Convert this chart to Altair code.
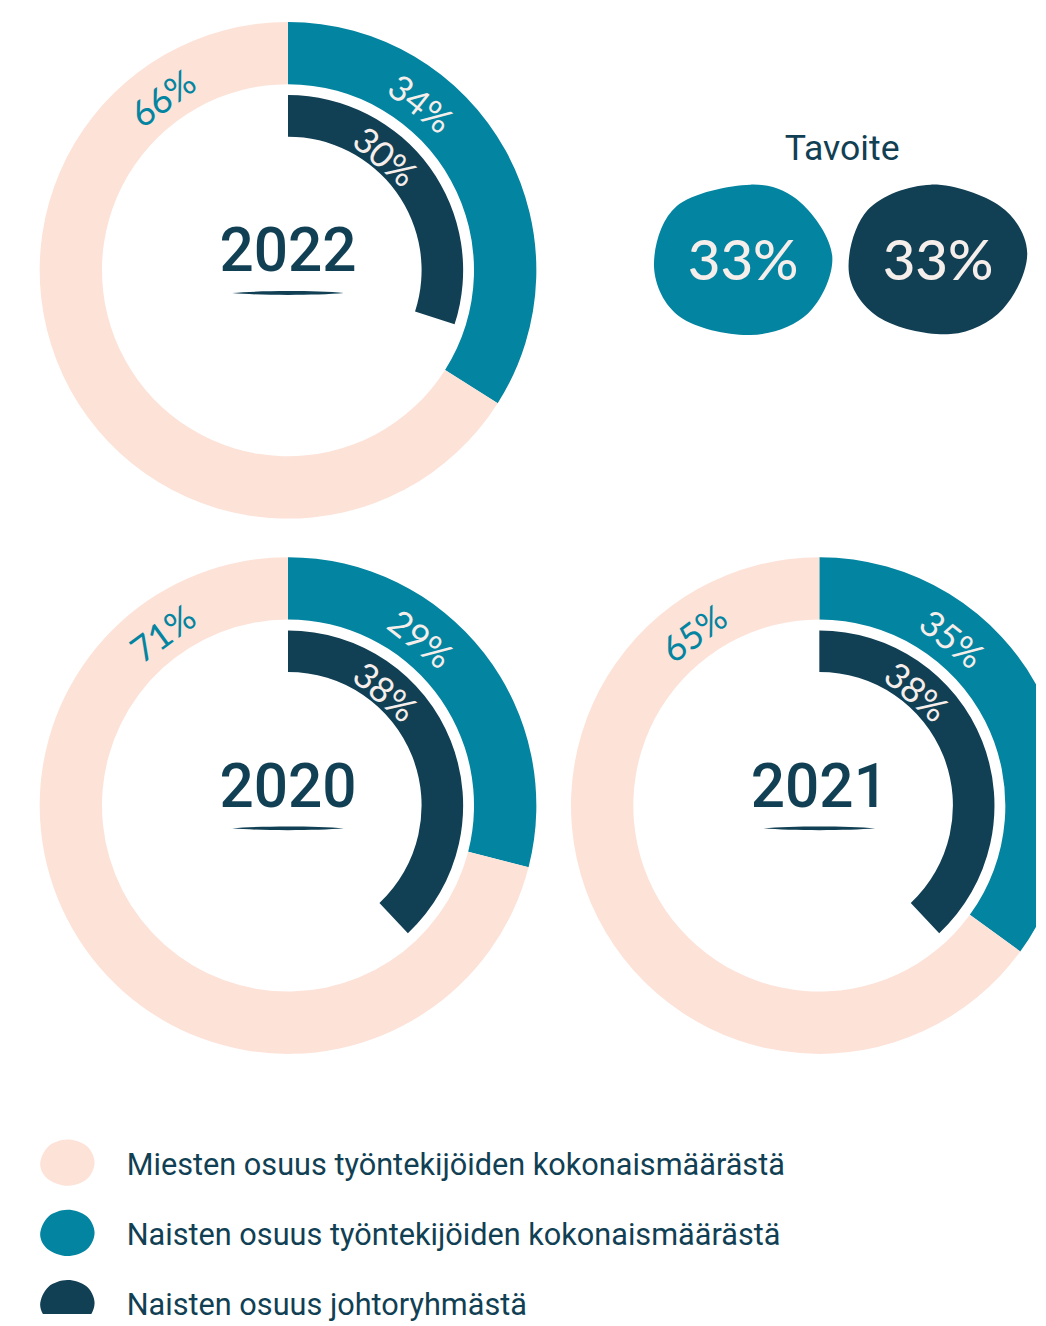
import math
import altair as alt
import pandas as pd

# ---------------- data ----------------
years = ["2022", "2020", "2021"]
men_share = [66, 71, 65]
women_share = [34, 29, 35]
women_mgmt_share = [30, 38, 38]

target_title = "Tavoite"
target_values = [33, 33]

legend_labels = [
    "Miesten osuus työntekijöiden kokonaismäärästä",
    "Naisten osuus työntekijöiden kokonaismäärästä",
    "Naisten osuus johtoryhmästä",
]

# ---------------- style ----------------
PEACH = "#fde2d8"
TEAL = "#0384a0"
DARK = "#113f54"
LIGHT = "#f6eeea"
colors = [PEACH, TEAL, DARK]


def rad(deg):
    return (deg % 360) * math.pi / 180


def blob_path(pts):
    n = len(pts)
    d = f"M{pts[0][0]:.3f},{pts[0][1]:.3f}"
    for i in range(n):
        p0, p1, p2, p3 = pts[i - 1], pts[i], pts[(i + 1) % n], pts[(i + 2) % n]
        c1 = (p1[0] + (p2[0] - p0[0]) / 6, p1[1] + (p2[1] - p0[1]) / 6)
        c2 = (p2[0] - (p3[0] - p1[0]) / 6, p2[1] - (p3[1] - p1[1]) / 6)
        d += f" C{c1[0]:.3f},{c1[1]:.3f} {c2[0]:.3f},{c2[1]:.3f} {p2[0]:.3f},{p2[1]:.3f}"
    return d + " Z"


TEAL_BLOB = blob_path([(0.08, -0.83), (0.64, -0.63), (0.99, -0.03), (0.72, 0.60),
                       (0.08, 0.84), (-0.70, 0.64), (-0.99, 0.08), (-0.74, -0.59)])
DARK_BLOB = blob_path([(-0.08, -0.83), (0.69, -0.59), (0.99, -0.07), (0.72, 0.55),
                       (0.14, 0.83), (-0.63, 0.66), (-0.99, 0.15), (-0.78, -0.55)])
LEGEND_BLOB = blob_path([(0.0, -0.85), (0.7, -0.62), (1.0, -0.02), (0.72, 0.6),
                         (0.0, 0.85), (-0.72, 0.6), (-1.0, 0.05), (-0.7, -0.6)])
LENS = "M-1,0 C-0.5,-0.045 0.5,-0.045 1,0 C0.5,0.045 -0.5,0.045 -1,0 Z"

LABEL_FONT = "Lato"
TEXT_FONT = "Roboto"

color_enc = alt.Color("group:N", scale=alt.Scale(domain=legend_labels, range=colors), legend=None)


def donut(i, w, h, xoff=0):
    ring = pd.DataFrame({
        "group": [legend_labels[1], legend_labels[0]],
        "value": [women_share[i], men_share[i]],
        "ord": [0, 1],
    })
    mgmt = pd.DataFrame({"group": [legend_labels[2]], "value": [women_mgmt_share[i]], "ord": [0]})
    yr = pd.DataFrame({"year": [years[i]]})

    theta = alt.Theta("value:Q", scale=alt.Scale(domain=[0, 100]), stack=True)

    outer = alt.Chart(ring).mark_arc(innerRadius=188, outerRadius=251, xOffset=xoff, clip=True).encode(
        theta=theta, color=color_enc, order=alt.Order("ord:Q"))
    inner = alt.Chart(mgmt).mark_arc(innerRadius=135, outerRadius=177, xOffset=xoff, clip=True).encode(
        theta=theta, color=color_enc, order=alt.Order("ord:Q"))

    lab = dict(font=LABEL_FONT, fontSize=36, fontWeight=400, align="center", baseline="middle",
               xOffset=xoff)
    men_lab = alt.Chart(ring).transform_filter(alt.datum.ord == 1).transform_calculate(
        lbl="datum.value + '%'").mark_text(
        theta=rad(-36), radius=213, angle=324, color=TEAL, **lab).encode(text="lbl:N")
    women_lab = alt.Chart(ring).transform_filter(alt.datum.ord == 0).transform_calculate(
        lbl="datum.value + '%'").mark_text(
        theta=rad(38.5), radius=213, angle=38.5, color=LIGHT, **lab).encode(text="lbl:N")
    mgmt_lab = alt.Chart(mgmt).transform_calculate(
        lbl="datum.value + '%'").mark_text(
        theta=rad(40.5), radius=149, angle=40.5, color=LIGHT, **lab).encode(text="lbl:N")

    year_txt = alt.Chart(yr).mark_text(
        font=TEXT_FONT, fontSize=61, fontWeight=500, color=DARK, baseline="alphabetic",
        align="center", dy=1, xOffset=xoff).encode(text="year:N")
    underline = alt.Chart(yr).mark_point(
        shape=LENS, size=113 * 113, filled=True, opacity=1, color=DARK, strokeWidth=0,
        yOffset=23, xOffset=xoff).encode(detail="year:N")

    return alt.layer(outer, inner, men_lab, women_lab, mgmt_lab, year_txt, underline).properties(
        width=w, height=h)


# ---------------- target panel ----------------
tdf = pd.DataFrame({
    "group": legend_labels[1:],
    "value": target_values,
})
tx = alt.X("group:N", sort=legend_labels[1:],
           scale=alt.Scale(type="point", range=[177, 374], padding=0), axis=None)
blobs = alt.Chart(tdf).mark_point(filled=True, opacity=1, size=182 * 182, strokeWidth=0, yOffset=-11).encode(
    x=tx,
    color=color_enc,
    shape=alt.Shape("group:N", scale=alt.Scale(domain=legend_labels[1:], range=[TEAL_BLOB, DARK_BLOB]),
                    legend=None),
)
blob_txt = alt.Chart(tdf).transform_calculate(lbl="datum.value + '%'").mark_text(
    font=LABEL_FONT, fontSize=57, fontWeight=500, color=LIGHT, baseline="middle", dy=-7
).encode(x=tx, text="lbl:N")
ttitle = alt.Chart(pd.DataFrame({"t": [target_title]})).mark_text(
    font=TEXT_FONT, fontSize=36, color=DARK, baseline="alphabetic", dy=-111, dx=40
).encode(text="t:N")
target = alt.layer(blobs, blob_txt, ttitle).properties(width=474, height=514)

# ---------------- legend panel ----------------
ldf = pd.DataFrame({"group": legend_labels})
ly = alt.Y("group:N", sort=legend_labels,
           scale=alt.Scale(type="point", range=[37, 179], padding=0), axis=None)
leg_pts = alt.Chart(ldf).mark_point(shape=LEGEND_BLOB, size=55 * 55, filled=True, opacity=1,
                                    strokeWidth=0, clip=True).encode(y=ly, color=color_enc)
leg_txt = alt.Chart(ldf).mark_text(font=TEXT_FONT, fontSize=31, color=DARK, align="left",
                                   baseline="middle", dx=60, dy=3).encode(y=ly, text="group:N")
legend = alt.layer(leg_pts, leg_txt).properties(width=118, height=190)

row1 = alt.hconcat(donut(0, 564, 514), target, spacing=0)
row2 = alt.hconcat(donut(1, 564, 514), donut(2, 474, 514, xoff=18), spacing=0)
top = alt.vconcat(row1, row2, spacing=26)

chart = alt.vconcat(top, legend, spacing=66).properties(padding=0).configure(
    background="white").configure_view(stroke="transparent")

chart.save("out.html", embed_options={"renderer": "svg", "actions": False})
